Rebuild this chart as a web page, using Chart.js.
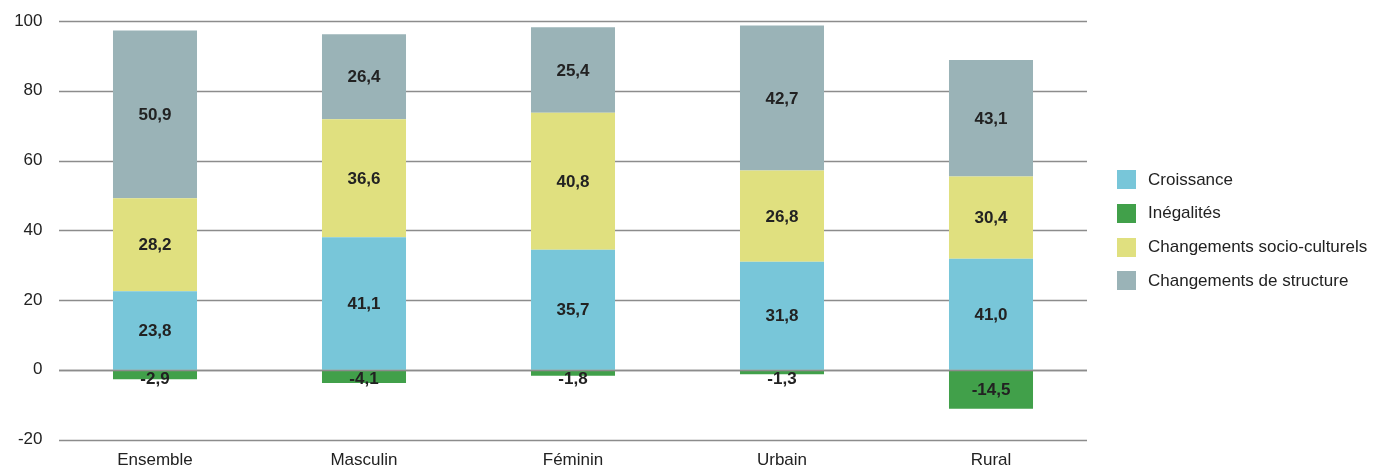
<!DOCTYPE html>
<html>
<head>
<meta charset="utf-8">
<script src="https://cdn.jsdelivr.net/npm/chart.js@4"></script>
<style>
  body { margin: 0; background: #fff; }
  #wrap { position: relative; width: 1375px; height: 471px; }
  #legend { position: absolute; left: 1117px; top: 170px; font: 17px "Liberation Sans", Arial, sans-serif; color: #222; }
  .item { display: flex; align-items: center; height: 19px; margin-bottom: 14.8px; white-space: nowrap; }
  .box { width: 19px; height: 19px; margin-right: 12px; }
</style>
</head>
<body>
<div id="wrap">
  <canvas id="chart" width="1375" height="471"></canvas>
  <div id="legend"></div>
</div>
<script>
const categories = ['Ensemble', 'Masculin', 'Féminin', 'Urbain', 'Rural'];

// values printed on the bars
const croissanceValues = [23.8, 41.1, 35.7, 31.8, 41.0];
const inegalitesValues = [-2.9, -4.1, -1.8, -1.3, -14.5];
const socioValues = [28.2, 36.6, 40.8, 26.8, 30.4];
const structureValues = [50.9, 26.4, 25.4, 42.7, 43.1];

// bar heights as drawn in the picture (the source chart rescales each bar)
const croissanceBars = [22.5, 38.0, 34.4, 31.0, 31.8];
const inegalitesBars = [-2.7, -3.8, -1.7, -1.3, -11.2];
const socioBars = [26.7, 33.8, 39.3, 26.1, 23.6];
const structureBars = [48.1, 24.4, 24.5, 41.6, 33.4];

const yMin = -20, yMax = 100, yStep = 20;

const seriesNames = ['Croissance', 'Inégalités', 'Changements socio-culturels', 'Changements de structure'];
const seriesColors = ['#78C6D9', '#41A04A', '#E0E07F', '#9AB3B7'];

const fontFamily = '"Liberation Sans", Arial, sans-serif';
Chart.defaults.font.family = fontFamily;
Chart.defaults.font.size = 17;
Chart.defaults.color = '#222';

const barData = [croissanceBars, inegalitesBars, socioBars, structureBars];
const labelData = [croissanceValues, inegalitesValues, socioValues, structureValues];

// horizontal grid lines, a bit shorter than the bar area
const gridPlugin = {
    id: 'grid',
    beforeDatasetsDraw(chart) {
        const { ctx, chartArea, scales } = chart;
        ctx.save();
        ctx.strokeStyle = '#8c8c8c';
        ctx.lineWidth = 1.3;
        scales.y.ticks.forEach(t => {
            const y = Math.round(scales.y.getPixelForValue(t.value)) + 0.5;
            ctx.beginPath();
            ctx.moveTo(chartArea.left + 8.5, y);
            ctx.lineTo(chartArea.right - 8.5, y);
            ctx.stroke();
        });
        ctx.restore();
    }
};

const labelPlugin = {
    id: 'barLabels',
    afterDatasetsDraw(chart) {
        const { ctx, chartArea, scales } = chart;
        const zero = scales.y.getPixelForValue(0);
        ctx.save();
        // zero line sits on top of the bars
        ctx.strokeStyle = '#8c8c8c';
        ctx.lineWidth = 1.3;
        ctx.beginPath();
        ctx.moveTo(chartArea.left + 8.5, Math.round(zero) + 0.5);
        ctx.lineTo(chartArea.right - 8.5, Math.round(zero) + 0.5);
        ctx.stroke();

        ctx.font = 'bold 17px ' + fontFamily;
        ctx.fillStyle = '#222';
        ctx.textAlign = 'center';
        ctx.textBaseline = 'middle';
        chart.data.datasets.forEach((ds, i) => {
            const meta = chart.getDatasetMeta(i);
            meta.data.forEach((bar, j) => {
                const v = labelData[i][j];
                let y = (bar.y + bar.base) / 2;
                if (v < 0) y = Math.max(y, zero + 9);
                ctx.fillText(v.toFixed(1).replace('.', ','), bar.x, y + 1);
            });
        });
        ctx.restore();
    }
};

new Chart(document.getElementById('chart'), {
    type: 'bar',
    data: {
        labels: categories,
        datasets: seriesNames.map((name, i) => ({
            label: name,
            data: barData[i],
            backgroundColor: seriesColors[i],
            borderWidth: 0,
            categoryPercentage: 1,
            barPercentage: 0.402
        }))
    },
    options: {
        responsive: false,
        animation: false,
        layout: { padding: { top: 21, right: 279.5, left: 0, bottom: 0 } },
        plugins: {
            legend: { display: false },
            tooltip: { enabled: false }
        },
        scales: {
            x: {
                stacked: true,
                grid: { display: false, drawTicks: false },
                border: { display: false },
                ticks: { padding: 11, font: { size: 17 }, color: '#222' },
                afterFit(scale) { scale.height = 31.5; }
            },
            y: {
                stacked: true,
                min: yMin,
                max: yMax,
                grid: { display: false, drawTicks: false },
                border: { display: false },
                ticks: { stepSize: yStep, padding: 8, font: { size: 17 }, color: '#222' },
                afterFit(scale) { scale.width = 50.5; }
            }
        }
    },
    plugins: [gridPlugin, labelPlugin]
});

const legend = document.getElementById('legend');
seriesNames.forEach((name, i) => {
    const row = document.createElement('div');
    row.className = 'item';
    row.innerHTML = '<span class="box" style="background:' + seriesColors[i] + '"></span>' + name;
    legend.appendChild(row);
});
</script>
</body>
</html>
